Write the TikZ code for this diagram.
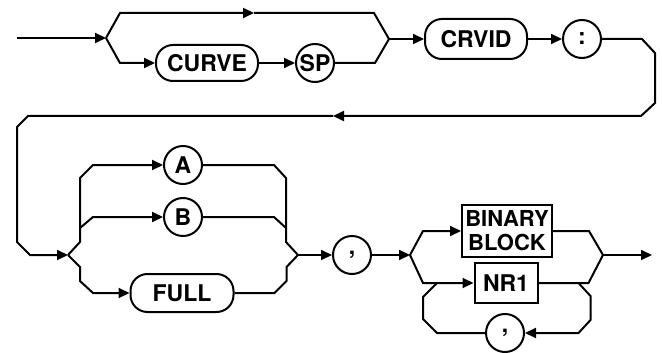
\documentclass[tikz,border=0pt]{standalone}
\usepackage{fontspec}
\setmainfont{TeX Gyre Heros}
\usetikzlibrary{arrows.meta, positioning}

\begin{document}
\begin{tikzpicture}[
    x=1pt, y=-1pt,
    every node/.style={font=\fontsize{23}{25}\selectfont\bfseries, align=center, inner sep=0pt},
    keyword/.style={draw, line width=2pt, rounded corners=17pt, minimum height=36pt},
    literal/.style={draw, circle, line width=2pt, minimum size=38pt},
    param/.style  ={draw, line width=2pt, rectangle},
    arrow/.style  ={-{Triangle[length=11pt,width=10pt]}, line width=2pt},
    line/.style   ={line width=2pt}
]
\useasboundingbox (0,0) rectangle (662,353);
% Row 1 -- CURVE SP / CRVID :
\coordinate (start)  at (17,38);
\coordinate (split1) at (106,38);
\coordinate (skip1)  at (254,13);
\coordinate (join1)  at (389,39);
\node[keyword, minimum width=102pt] (curve) at (207,63) {CURVE};
\node[literal] (sp) at (315,63) {SP};
\node[keyword, minimum width=102pt, minimum height=40pt] (crvid) at (476,39) {CRVID};
\node[literal] (colon) at (582,39) {:};
\coordinate (back) at (333,116);
% Row 2 -- A / B / FULL , BINARY BLOCK / NR1
\coordinate (split2) at (68,255);
\coordinate (join2)  at (298,255);
\node[literal] (optA) at (183,165) {A};
\node[literal] (optB) at (183,217) {B};
\node[keyword, minimum width=103pt, minimum height=38pt] (full) at (182,293) {FULL};
\node[literal] (sep) at (352,255) {,};
\coordinate (split3) at (410,255);
\coordinate (join3)  at (603,255);
\coordinate (finish) at (652,255);
\node[param, minimum width=90pt, minimum height=52pt, font=\fontsize{22}{24}\selectfont\bfseries] (binblock) at (507,231) {BINARY\\BLOCK};
\node[param, minimum width=63pt, minimum height=40pt] (nrone) at (506,283) {NR1};
\node[literal] (repeat) at (505,333) {,};
% Arrows -- row 1
\draw[arrow] (start) -- (split1);
\draw[arrow] (split1) -- ++(14,-25) -- (skip1);
\draw[line]  (skip1) -- ++(120,0) -- (join1);
\draw[arrow] (split1) -- ++(14,25) -- (curve.west);
\draw[arrow] (curve) -- (sp);
\draw[line]  (sp.east) -- ++(40,0) -- (join1);
\draw[arrow] (join1) -- (crvid);
\draw[arrow] (crvid) -- (colon);
\draw[arrow] (colon.east) -- ++(40,0) -- ++(13,14) -- ++(0,50) -- ++(-14,13) -- (back);
\draw[arrow] (back) -- ++(-305,0) -- ++(-11,11) -- ++(0,115) -- ++(13,13) -- (split2);
% Arrows -- row 2 choices
\draw[arrow] (split2) -- ++(12,-13) -- ++(0,-64) -- ++(13,-13) -- (optA);
\draw[arrow] (split2) ++(12,-27) -- ++(13,-11) -- (optB);
\draw[line]  (optA.east) -- ++(71,0) -- ++(12,13) -- ++(0,64) -- (join2);
\draw[line]  (optB.east) -- ++(71,0) -- ++(12,11);
\draw[arrow] (split2) -- ++(12,12) -- ++(0,14) -- ++(13,12) -- (full);
\draw[line]  (full.east) -- ++(40,0) -- ++(12,-12) -- ++(0,-14) -- (join2);
\draw[arrow] (join2) -- (sep);
\draw[arrow] (sep) -- (split3);
% Arrows -- data block
\draw[arrow] (split3) -- ++(13,-24) -- (binblock);
\draw[line]  (binblock.east) -- ++(36,0) -- (join3);
\draw[arrow] (split3) -- ++(13,28) -- (nrone);
\draw[line]  (nrone.east) -- ++(50,0) -- (join3);
\draw[arrow] (nrone.east) ++(40,0) -- ++(12,13) -- ++(0,24) -- ++(-12,13) -- (repeat);
\draw[line]  (repeat.west) -- ++(-48,0) -- ++(-14,-14) -- ++(0,-22) -- ++(14,-14);
\draw[arrow] (join3) -- (finish);
\end{tikzpicture}
\end{document}
